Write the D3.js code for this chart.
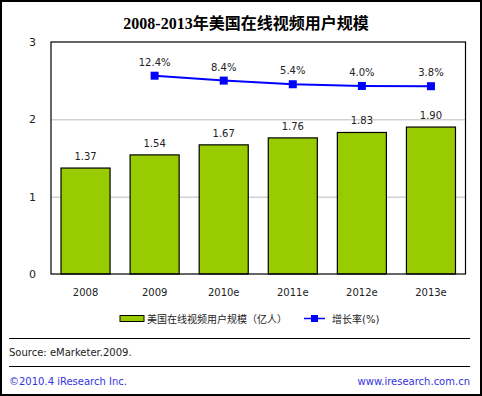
<!DOCTYPE html>
<html><head><meta charset="utf-8">
<script src="https://cdn.jsdelivr.net/npm/d3@7"></script>
<style>body{margin:0;background:#fff}svg{display:block}</style>
</head><body>
<script>
const categories = ["2008","2009","2010e","2011e","2012e","2013e"];
const users = [1.37,1.54,1.67,1.76,1.83,1.90];
const growthCats = ["2009","2010e","2011e","2012e","2013e"];
const growth = [12.4,8.4,5.4,4.0,3.8];
const yTicks = [0,1,2,3];

const W=482,H=396;
const svg=d3.select("body").append("svg").attr("width",W).attr("height",H);
const font="'DejaVu Sans','Noto Sans CJK SC',sans-serif";
svg.append("rect").attr("x",1).attr("y",1).attr("width",W-2).attr("height",H-2).attr("fill","#fff").attr("stroke","#000").attr("stroke-width",2);

svg.append("text").attr("x",246).attr("y",29).attr("text-anchor","middle")
  .attr("font-family","'Liberation Serif','Noto Sans CJK SC',serif").attr("font-weight","bold").attr("font-size",16)
  .text("2008-2013年美国在线视频用户规模");

const L=51,R=465.5,T=42,B=274;
const x=d3.scaleBand().domain(categories).range([L,R]).paddingInner(0.29).paddingOuter(0.145);
const y=d3.scaleLinear().domain([0,3]).range([B,T]);
const y2=d3.scaleLinear().domain([-150,40]).range([B,T]);

const g=svg.append("g");
g.selectAll(".grid").data(yTicks.filter(d=>d>0&&d<3)).join("line")
 .attr("x1",L).attr("x2",R).attr("y1",d=>y(d)+0.5).attr("y2",d=>y(d)+0.5).attr("stroke","#bbb");

g.selectAll(".bar").data(users).join("rect")
 .attr("x",(d,i)=>x(categories[i])).attr("width",x.bandwidth())
 .attr("y",d=>y(d)).attr("height",d=>B-y(d))
 .attr("fill","#99cc00").attr("stroke","#000").attr("stroke-width",1.2);

g.selectAll(".blab").data(users).join("text")
 .attr("x",(d,i)=>x(categories[i])+x.bandwidth()/2).attr("y",d=>y(d)-8)
 .attr("text-anchor","middle").attr("font-family",font).attr("font-size",10).attr("fill","#222")
 .text(d=>d.toFixed(2));

svg.append("rect").attr("x",L).attr("y",T).attr("width",R-L).attr("height",B-T).attr("fill","none").attr("stroke","#000").attr("stroke-width",1.2);

const yAxis=d3.axisLeft(y).tickValues(yTicks).tickSize(0).tickFormat(d3.format("d"));
const ya=svg.append("g").attr("transform",`translate(${L-12},0)`).call(yAxis);
ya.select(".domain").remove();
ya.selectAll("text").attr("font-family",font).attr("font-size",11).attr("fill","#222");

const xAxis=d3.axisBottom(x).tickSize(0);
const xa=svg.append("g").attr("transform",`translate(0,${B+12})`).call(xAxis);
xa.select(".domain").remove();
xa.selectAll("text").attr("font-family",font).attr("font-size",10).attr("fill","#222");

const cx=c=>x(c)+x.bandwidth()/2;
const line=d3.line().x((d,i)=>cx(growthCats[i])).y(d=>y2(d));
g.append("path").datum(growth).attr("d",line).attr("fill","none").attr("stroke","#0000ff").attr("stroke-width",2);
g.selectAll(".mk").data(growth).join("rect")
 .attr("x",(d,i)=>cx(growthCats[i])-4).attr("y",d=>y2(d)-4).attr("width",8).attr("height",8).attr("fill","#0000ff");
g.selectAll(".glab").data(growth).join("text")
 .attr("x",(d,i)=>cx(growthCats[i])).attr("y",d=>y2(d)-10)
 .attr("text-anchor","middle").attr("font-family",font).attr("font-size",10).attr("fill","#222")
 .text(d=>d.toFixed(1)+"%");

// legend
const lg=svg.append("g");
lg.append("rect").attr("x",120).attr("y",315.5).attr("width",24).attr("height",6).attr("fill","#99cc00").attr("stroke","#000").attr("stroke-width",1);
lg.append("text").attr("x",147).attr("y",323).attr("font-family",font).attr("font-size",10).attr("fill","#222").text("美国在线视频用户规模（亿人）");
lg.append("line").attr("x1",304).attr("x2",325).attr("y1",318.5).attr("y2",318.5).attr("stroke","#0000ff").attr("stroke-width",1.5);
lg.append("rect").attr("x",311).attr("y",315).attr("width",7).attr("height",7).attr("fill","#0000ff");
lg.append("text").attr("x",332).attr("y",323).attr("font-family",font).attr("font-size",10).attr("fill","#222").text("增长率(%)");

svg.append("line").attr("x1",9).attr("x2",470).attr("y1",338.5).attr("y2",338.5).attr("stroke","#000");
svg.append("line").attr("x1",9).attr("x2",470).attr("y1",366.5).attr("y2",366.5).attr("stroke","#000");
svg.append("text").attr("x",9).attr("y",356).attr("font-family",font).attr("font-size",10).attr("fill","#222").text("Source: eMarketer.2009.");
svg.append("text").attr("x",9).attr("y",385).attr("font-family",font).attr("font-size",10).attr("fill","#3333dd").text("©2010.4 iResearch Inc.");
svg.append("text").attr("x",470).attr("y",385).attr("text-anchor","end").attr("font-family",font).attr("font-size",10).attr("fill","#3333dd").text("www.iresearch.com.cn");
</script>
</body></html>
